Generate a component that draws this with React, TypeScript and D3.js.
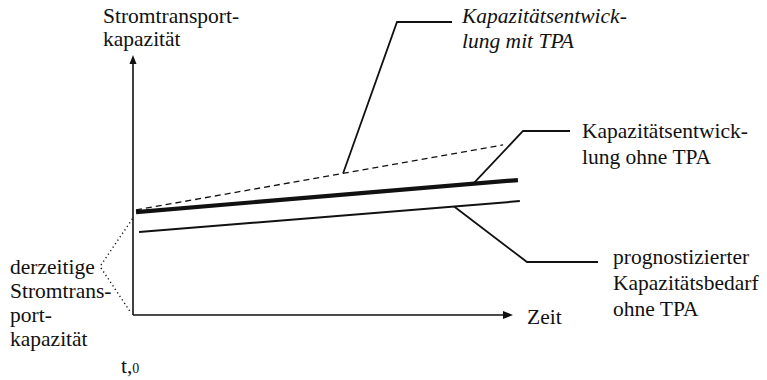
import { useEffect, useRef } from "react";
import * as d3 from "d3";

// time points (start = t0, end) and capacity values
const timeMit = [0.8, 97.4];
const valuesMit = [40.4, 65.4];

const timeOhne = [0.8, 101.3];
const valuesOhne = [39.6, 51.9];

const timeBedarf = [1.6, 101.8];
const valuesBedarf = [31.9, 43.8];

const yAxisLabel = ["Stromtransport-", "kapazität"];
const xAxisLabel = "Zeit";
const labelMit = ["Kapazitätsentwick-", "lung mit TPA"];
const labelOhne = ["Kapazitätsentwick-", "lung ohne TPA"];
const labelBedarf = ["prognostizierter", "Kapazitätsbedarf", "ohne TPA"];
const labelHeute = ["derzeitige", "Stromtrans-", "port-", "kapazität"];

export default function App() {
    const ref = useRef<SVGSVGElement>(null);

    useEffect(() => {
        const svg = d3.select(ref.current);
        svg.selectAll("*").remove();

        const font = "Liberation Serif, Tinos, Times New Roman, DejaVu Serif, serif";
        const fs = "21.5px";
        const x = d3.scaleLinear().domain([0, 100]).range([133, 513]);
        const y = d3.scaleLinear().domain([0, 100]).range([315, 55]);

        const line = d3.line<[number, number]>()
            .x(d => x(d[0]))
            .y(d => y(d[1]));

        // axes with arrow heads
        svg.append("line")
            .attr("x1", x(0)).attr("y1", y(0))
            .attr("x2", x(0)).attr("y2", y(100) + 6)
            .attr("stroke", "#111").attr("stroke-width", 1.6);
        svg.append("path")
            .attr("d", `M${x(0)},${y(100)} L${x(0) - 3.5},${y(100) + 9} L${x(0) + 3.5},${y(100) + 9} Z`)
            .attr("fill", "#111");
        svg.append("line")
            .attr("x1", x(0)).attr("y1", y(0))
            .attr("x2", x(100) - 6).attr("y2", y(0))
            .attr("stroke", "#111").attr("stroke-width", 1.6);
        svg.append("path")
            .attr("d", `M${x(100)},${y(0)} L${x(100) - 10},${y(0) - 4} L${x(100) - 10},${y(0) + 4} Z`)
            .attr("fill", "#111");

        const pts = (t: number[], v: number[]) => t.map((d, i) => [d, v[i]] as [number, number]);

        // series
        svg.append("path")
            .datum(pts(timeMit, valuesMit))
            .attr("d", line)
            .attr("fill", "none").attr("stroke", "#111")
            .attr("stroke-width", 1.3).attr("stroke-dasharray", "6,4");
        svg.append("path")
            .datum(pts(timeOhne, valuesOhne))
            .attr("d", line)
            .attr("fill", "none").attr("stroke", "#111")
            .attr("stroke-width", 4.2);
        svg.append("path")
            .datum(pts(timeBedarf, valuesBedarf))
            .attr("d", line)
            .attr("fill", "none").attr("stroke", "#111")
            .attr("stroke-width", 2);

        // point on a series at time t
        const at = (t: number[], v: number[], tt: number): [number, number] => {
            const s = d3.scaleLinear().domain(t).range(v);
            return [x(tt), y(s(tt))];
        };

        const leader = (p: [number, number], elbow: [number, number], endX: number) => {
            svg.append("path")
                .attr("d", `M${p[0]},${p[1]} L${elbow[0]},${elbow[1]} L${endX},${elbow[1]}`)
                .attr("fill", "none").attr("stroke", "#111").attr("stroke-width", 1.8);
        };
        leader(at(timeMit, valuesMit, 55.3), [397, 22], 452);
        leader(at(timeOhne, valuesOhne, 89.5), [523, 131], 570);
        leader(at(timeBedarf, valuesBedarf, 84.5), [527, 262], 598);

        // dotted lines to the start value
        const heute = svg.append("g")
            .attr("fill", "none").attr("stroke", "#111")
            .attr("stroke-width", 1.4).attr("stroke-dasharray", "1.2,3");
        heute.append("line")
            .attr("x1", 101).attr("y1", 265)
            .attr("x2", x(0)).attr("y2", 218);
        heute.append("line")
            .attr("x1", 101).attr("y1", 268)
            .attr("x2", x(0) - 2).attr("y2", y(0) - 2);

        const block = (lines: string[], tx: number, ty: number, dy: number, italic = false) => {
            const t = svg.append("text")
                .style("font-family", font)
                .style("font-size", fs)
                .style("font-style", italic ? "italic" : "normal")
                .attr("fill", "#111");
            lines.forEach((s, i) => {
                t.append("tspan").attr("x", tx).attr("y", ty + i * dy).text(s);
            });
        };

        block(yAxisLabel, 103, 23, 23);
        block(labelMit, 462, 23, 25, true);
        block(labelOhne, 582, 138, 26);
        block(labelBedarf, 613, 264, 26);
        block([xAxisLabel], 527, 324, 0);
        block(labelHeute, 10, 274, 24);

        const t0 = svg.append("text")
            .attr("x", 121).attr("y", 373)
            .style("font-family", font)
            .style("font-size", fs)
            .attr("fill", "#111");
        t0.append("tspan").text("t,");
        t0.append("tspan").style("font-size", "14px").text("0");
    }, []);

    return (
        <svg ref={ref} width={767} height={380}
            style={{ position: "fixed", left: 0, top: 0, background: "white" }} />
    );
}
